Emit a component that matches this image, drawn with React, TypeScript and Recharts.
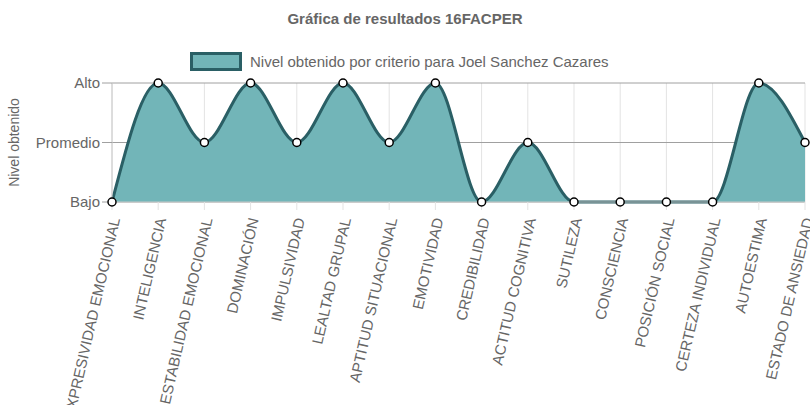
import React from 'react';
import {Area, AreaChart, CartesianGrid, XAxis, YAxis} from 'recharts';

const criterios = [
    "EXPRESIVIDAD EMOCIONAL", "INTELIGENCIA", "ESTABILIDAD EMOCIONAL", "DOMINACIÓN",
    "IMPULSIVIDAD", "LEALTAD GRUPAL", "APTITUD SITUACIONAL", "EMOTIVIDAD",
    "CREDIBILIDAD", "ACTITUD COGNITIVA", "SUTILEZA", "CONSCIENCIA",
    "POSICIÓN SOCIAL", "CERTEZA INDIVIDUAL", "AUTOESTIMA", "ESTADO DE ANSIEDAD"
];
const niveles = [0, 2, 1, 2, 1, 2, 1, 2, 0, 1, 0, 0, 0, 0, 2, 1];
const nivelLabels = ["Bajo", "Promedio", "Alto"];

const data = criterios.map((c, i) => ({criterio: c, nivel: niveles[i]}));

const FONT = 'Arial, "Liberation Sans", Helvetica, sans-serif';
const FILL = '#72b5b8';
const STROKE = '#2a5f65';

const RotatedTick = (props: any) => {
    const {x, y, payload} = props;
    return (
        <text
            x={x + 3}
            y={y + 6}
            dy="0.35em"
            textAnchor="end"
            fill="#666"
            fontSize={15}
            fontFamily={FONT}
            transform={`rotate(-77, ${x + 3}, ${y + 6})`}
        >
            {payload.value}
        </text>
    );
};

const App = () => {
    return (
        <div style={{position: 'absolute', left: 0, top: 0, width: 810, height: 405, overflow: 'hidden', fontFamily: FONT}}>
            <div style={{position: 'absolute', top: 10, left: 0, width: 810, textAlign: 'center', fontSize: 15, fontWeight: 'bold', color: '#666'}}>
                Gráfica de resultados 16FACPER
            </div>
            <div style={{position: 'absolute', top: 52, left: 190, display: 'flex', alignItems: 'center'}}>
                <div style={{width: 46, height: 13, background: FILL, border: `3px solid ${STROKE}`}}/>
                <span style={{marginLeft: 8, fontSize: 15, color: '#666'}}>
                    Nivel obtenido por criterio para Joel Sanchez Cazares
                </span>
            </div>
            <AreaChart
                width={810}
                height={405}
                data={data}
                margin={{top: 83, right: 5, left: 0, bottom: 0}}
            >
                <CartesianGrid stroke="#e3e3e3" horizontal={false}/>
                <CartesianGrid stroke="#a0a0a0" vertical={false}/>
                <XAxis
                    dataKey="criterio"
                    height={203}
                    interval={0}
                    tick={<RotatedTick/>}
                    tickSize={8}
                    tickLine={{stroke: '#e3e3e3'}}
                    axisLine={{stroke: '#c8c8c8'}}
                />
                <YAxis
                    width={112}
                    domain={[0, 2]}
                    ticks={[0, 1, 2]}
                    tickFormatter={(v) => nivelLabels[v]}
                    tick={{fill: '#666', fontSize: 15, fontFamily: FONT}}
                    tickSize={10}
                    tickMargin={2}
                    tickLine={{stroke: '#a0a0a0'}}
                    axisLine={{stroke: '#c8c8c8'}}
                    label={{
                        value: 'Nivel obtenido',
                        angle: -90,
                        position: 'insideLeft',
                        offset: 14,
                        style: {textAnchor: 'middle', fill: '#666', fontSize: 14, fontFamily: FONT}
                    }}
                />
                <Area
                    type="monotone"
                    dataKey="nivel"
                    stroke={STROKE}
                    strokeWidth={3}
                    fill={FILL}
                    fillOpacity={1}
                    dot={{r: 4, fill: '#fff', stroke: '#000', strokeWidth: 1.5}}
                    activeDot={false}
                    isAnimationActive={false}
                />
            </AreaChart>
        </div>
    );
};

export default App;
